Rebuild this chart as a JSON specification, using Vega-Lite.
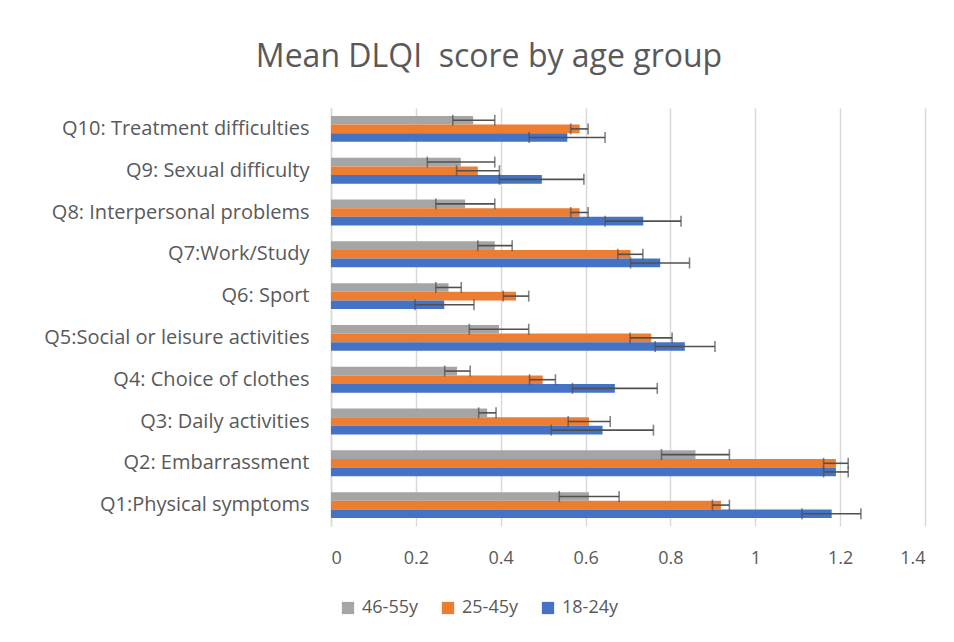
{
  "$schema": "https://vega.github.io/schema/vega-lite/v6.json",
  "autosize": {"type": "none"},
  "width": 594,
  "height": 418,
  "padding": {"left": 331, "top": 108, "right": 29, "bottom": 116},
  "background": "white",
  "title": {
    "text": "Mean DLQI\u00a0 score by age group",
    "font": "Open Sans",
    "fontWeight": 400,
    "fontSize": 32,
    "color": "#595959",
    "anchor": "middle",
    "frame": "group",
    "dx": -139,
    "offset": 34
  },
  "data": {
    "values": [
      {"q": "Q10: Treatment difficulties", "g": "46-55y", "mean": 0.335, "lo": 0.287, "hi": 0.386},
      {"q": "Q10: Treatment difficulties", "g": "25-45y", "mean": 0.586, "lo": 0.565, "hi": 0.606},
      {"q": "Q10: Treatment difficulties", "g": "18-24y", "mean": 0.557, "lo": 0.467, "hi": 0.646},
      {"q": "Q9: Sexual difficulty", "g": "46-55y", "mean": 0.306, "lo": 0.227, "hi": 0.386},
      {"q": "Q9: Sexual difficulty", "g": "25-45y", "mean": 0.346, "lo": 0.296, "hi": 0.397},
      {"q": "Q9: Sexual difficulty", "g": "18-24y", "mean": 0.497, "lo": 0.397, "hi": 0.596},
      {"q": "Q8: Interpersonal problems ", "g": "46-55y", "mean": 0.316, "lo": 0.247, "hi": 0.386},
      {"q": "Q8: Interpersonal problems ", "g": "25-45y", "mean": 0.586, "lo": 0.565, "hi": 0.606},
      {"q": "Q8: Interpersonal problems ", "g": "18-24y", "mean": 0.736, "lo": 0.646, "hi": 0.825},
      {"q": "Q7:Work/Study", "g": "46-55y", "mean": 0.386, "lo": 0.346, "hi": 0.427},
      {"q": "Q7:Work/Study", "g": "25-45y", "mean": 0.706, "lo": 0.676, "hi": 0.735},
      {"q": "Q7:Work/Study", "g": "18-24y", "mean": 0.776, "lo": 0.706, "hi": 0.845},
      {"q": "Q6: Sport ", "g": "46-55y", "mean": 0.277, "lo": 0.247, "hi": 0.307},
      {"q": "Q6: Sport ", "g": "25-45y", "mean": 0.436, "lo": 0.406, "hi": 0.466},
      {"q": "Q6: Sport ", "g": "18-24y", "mean": 0.267, "lo": 0.198, "hi": 0.337},
      {"q": "Q5:Social or leisure activities", "g": "46-55y", "mean": 0.396, "lo": 0.326, "hi": 0.466},
      {"q": "Q5:Social or leisure activities", "g": "25-45y", "mean": 0.755, "lo": 0.705, "hi": 0.804},
      {"q": "Q5:Social or leisure activities", "g": "18-24y", "mean": 0.834, "lo": 0.764, "hi": 0.905},
      {"q": "Q4: Choice of clothes", "g": "46-55y", "mean": 0.297, "lo": 0.268, "hi": 0.328},
      {"q": "Q4: Choice of clothes", "g": "25-45y", "mean": 0.499, "lo": 0.468, "hi": 0.529},
      {"q": "Q4: Choice of clothes", "g": "18-24y", "mean": 0.669, "lo": 0.569, "hi": 0.769},
      {"q": "Q3: Daily activities", "g": "46-55y", "mean": 0.368, "lo": 0.348, "hi": 0.389},
      {"q": "Q3: Daily activities", "g": "25-45y", "mean": 0.608, "lo": 0.559, "hi": 0.658},
      {"q": "Q3: Daily activities", "g": "18-24y", "mean": 0.64, "lo": 0.519, "hi": 0.76},
      {"q": "Q2: Embarrassment", "g": "46-55y", "mean": 0.859, "lo": 0.779, "hi": 0.939},
      {"q": "Q2: Embarrassment", "g": "25-45y", "mean": 1.19, "lo": 1.161, "hi": 1.219},
      {"q": "Q2: Embarrassment", "g": "18-24y", "mean": 1.19, "lo": 1.161, "hi": 1.219},
      {"q": "Q1:Physical symptoms", "g": "46-55y", "mean": 0.608, "lo": 0.538, "hi": 0.679},
      {"q": "Q1:Physical symptoms", "g": "25-45y", "mean": 0.919, "lo": 0.899, "hi": 0.939},
      {"q": "Q1:Physical symptoms", "g": "18-24y", "mean": 1.18, "lo": 1.11, "hi": 1.249}
    ]
  },
  "encoding": {
    "y": {
      "field": "q",
      "type": "nominal",
      "sort": null,
      "title": null,
      "scale": {"paddingInner": 0.38, "paddingOuter": 0.19},
      "axis": {
        "labelFont": "Open Sans",
        "labelFontSize": 20,
        "labelColor": "#595959",
        "labelPadding": 22,
        "ticks": false,
        "domain": true,
        "domainColor": "#d9d9d9",
        "domainWidth": 1.5,
        "labelLimit": 400
      }
    },
    "yOffset": {
      "field": "g",
      "type": "nominal",
      "sort": ["46-55y", "25-45y", "18-24y"],
      "scale": {"paddingInner": 0, "paddingOuter": 0}
    }
  },
  "layer": [
    {
      "mark": {"type": "bar", "stroke": null},
      "encoding": {
        "x": {
          "field": "mean",
          "type": "quantitative",
          "title": null,
          "scale": {"domain": [0, 1.4]},
          "axis": {
            "values": [0, 0.2, 0.4, 0.6, 0.8, 1, 1.2, 1.4],
            "format": "~g",
            "labelFont": "Open Sans",
            "labelFontSize": 18,
            "labelColor": "#595959",
            "labelPadding": 23,
            "ticks": false,
            "domain": false,
            "grid": true,
            "gridColor": "#d9d9d9",
            "gridWidth": 1.5
          }
        },
        "color": {
          "field": "g",
          "type": "nominal",
          "sort": ["46-55y", "25-45y", "18-24y"],
          "scale": {"domain": ["46-55y", "25-45y", "18-24y"], "range": ["#a5a5a5", "#ed7d31", "#4472c4"]},
          "legend": {
            "title": null,
            "orient": "none",
            "direction": "horizontal",
            "legendX": 8,
            "legendY": 491,
            "symbolType": "square",
            "symbolSize": 150,
            "symbolStrokeWidth": 0,
            "labelFont": "Open Sans",
            "labelFontSize": 18,
            "labelColor": "#595959",
            "columnPadding": 21,
            "labelOffset": 5
          }
        }
      }
    },
    {
      "mark": {"type": "rule", "color": "#505050", "strokeWidth": 1.6},
      "encoding": {
        "x": {"field": "lo", "type": "quantitative"},
        "x2": {"field": "hi"}
      }
    },
    {
      "mark": {"type": "tick", "color": "#505050", "thickness": 1.6, "size": 11},
      "encoding": {"x": {"field": "lo", "type": "quantitative"}}
    },
    {
      "mark": {"type": "tick", "color": "#505050", "thickness": 1.6, "size": 11},
      "encoding": {"x": {"field": "hi", "type": "quantitative"}}
    }
  ],
  "config": {"view": {"stroke": null}}
}
